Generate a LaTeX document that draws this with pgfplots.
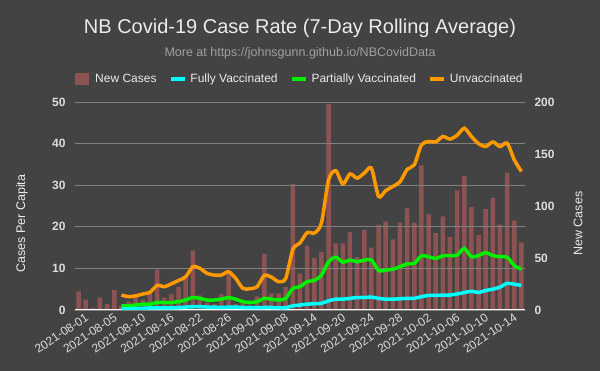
\documentclass[border=0pt]{standalone}
\usepackage{fontspec}
\setmainfont{Liberation Sans}
\usepackage{pgfplots}
\usepackage{pgfplotstable}
\pgfplotsset{compat=1.18}

\definecolor{bg}{RGB}{67,67,67}
\definecolor{barcol}{RGB}{141,82,82}
\definecolor{gridcol}{RGB}{128,128,128}
\definecolor{fullcol}{RGB}{0,255,255}
\definecolor{partcol}{RGB}{0,240,0}
\definecolor{unvcol}{RGB}{255,153,0}
\definecolor{txt}{RGB}{235,235,235}
\definecolor{ticktxt}{RGB}{220,220,220}
\definecolor{subtxt}{RGB}{160,160,160}

% daily new cases (one row per reporting day)
\pgfplotstableread{
x cases
0 18
1 10
2 2
3 12
4 6
5 19
6 4
7 8
8 13
9 10
10 16
11 39
12 12
13 15
14 22
15 31
16 57
17 14
18 7
19 6
20 15
21 36
22 6
23 8
24 5
25 13
26 54
27 16
28 16
29 22
30 121
31 35
32 62
33 50
34 56
35 198
36 64
37 64
38 75
39 51
40 77
41 60
42 82
43 85
44 68
45 84
46 98
47 84
48 139
49 92
50 74
51 90
52 70
53 115
54 129
55 99
56 72
57 97
58 108
59 82
60 132
61 86
62 65
}\casestable

% 7-day rolling case rate per capita by vaccination status
\pgfplotstableread{
x full part unvax
6 0.3 1.0 3.6
7 0.3 1.0 3.2
8 0.4 1.2 3.4
9 0.4 1.4 3.85
10 0.5 1.4 4.25
11 0.5 1.8 5.9
12 0.5 1.8 5.6
13 0.5 1.8 6.3
14 0.6 2.0 7.1
15 0.7 2.4 8.0
16 0.8 3.0 10.4
17 0.8 2.8 10.0
18 0.7 2.4 8.8
19 0.7 2.4 8.4
20 0.6 2.6 8.4
21 0.7 3.0 9.2
22 0.7 2.6 7.6
23 0.6 2.0 5.2
24 0.55 1.8 5.1
25 0.55 2.0 5.6
26 0.6 2.8 8.3
27 0.6 2.6 7.9
28 0.55 2.4 6.8
29 0.55 2.8 7.6
30 1.0 5.2 14.6
31 1.2 5.6 16.1
32 1.4 6.8 18.6
33 1.5 7.1 18.5
34 1.6 8.4 20.9
35 2.2 11.6 31.3
36 2.6 12.7 33.5
37 2.6 11.5 30.3
38 2.8 12.0 32.7
39 3.0 11.6 31.7
40 3.0 12.0 32.9
41 3.1 12.0 34.1
42 2.8 9.5 27.3
43 2.6 9.6 28.7
44 2.6 9.8 29.7
45 2.7 10.4 30.8
46 2.8 11.1 33.8
47 2.8 11.2 34.9
48 3.2 13.0 39.7
49 3.5 12.8 40.5
50 3.5 12.4 40.4
51 3.6 13.0 41.7
52 3.6 13.1 41.1
53 3.85 13.2 42.0
54 4.2 14.8 43.7
55 4.5 12.8 41.7
56 4.2 13.1 40.0
57 4.7 13.8 39.3
58 5.0 13.1 40.4
59 5.5 12.8 39.3
60 6.4 12.7 40.1
61 6.2 10.7 36.1
62 5.9 9.8 33.3
}\ratetable

\pgfplotsset{
  common/.style={
    scale only axis, width=450pt, height=208pt,
    xmin=-0.5, xmax=62.5, ymin=0,
    /pgf/number format/assume math mode=true,
    major tick length=0pt,
    yticklabel style={font=\fontsize{12}{14}\selectfont\bfseries, text=ticktxt},
    label style={font=\fontsize{12.5}{14}\selectfont, text=txt},
  },
}

\begin{document}
\begin{tikzpicture}[x=1pt,y=1pt]
% the plot area spans (0,0)--(450,208); the page spans (-75,-61)--(525,310)
\fill[bg] (-75,-61) rectangle (525,310);

\node[txt, font=\fontsize{20}{24}\selectfont] at (225,282)
  {NB Covid-19 Case Rate (7-Day Rolling Average)};
\node[subtxt, font=\fontsize{12.5}{14}\selectfont] at (225,257)
  {More at https://johnsgunn.github.io/NBCovidData};

% right axis: daily new cases as bars
\begin{axis}[common,
  ymax=200, ytick={0,50,...,200},
  axis y line*=right, axis x line=none,
  y axis line style={draw=none},
  yticklabel style={anchor=west, xshift=6pt},
  ylabel={New Cases},
  ylabel style={at={(axis description cs:1.118,0.415)}, anchor=center},
]
\addplot[ybar, bar width=4.5pt, fill=barcol, draw=none] table[x=x, y=cases] {\casestable};
\end{axis}

% left axis: rolling rates by vaccination status
\begin{axis}[common,
  ymax=50, ytick={0,10,...,50},
  axis y line*=left, axis x line*=bottom,
  y axis line style={draw=none},
  x axis line style={draw=white, line width=1pt},
  ymajorgrids, grid style={gridcol, line width=0.8pt},
  yticklabel style={anchor=east, xshift=-6pt},
  xtick={0,4,...,60},
  xticklabels={2021-08-01,2021-08-05,2021-08-10,2021-08-16,2021-08-22,2021-08-26,2021-09-01,2021-09-08,2021-09-14,2021-09-20,2021-09-24,2021-09-28,2021-10-02,2021-10-06,2021-10-10,2021-10-14},
  xticklabel style={rotate=34, anchor=north east, font=\fontsize{12}{14}\selectfont, text=ticktxt, xshift=7pt, yshift=-2pt},
  ylabel={Cases Per Capita},
  ylabel style={at={(axis description cs:-0.118,0.415)}, anchor=center},
  legend columns=4,
  legend style={at={(axis description cs:0.5,1.112)}, anchor=center,
    draw=none, fill=none, text=txt, font=\fontsize{12}{14}\selectfont,
    /tikz/every odd column/.append style={column sep=4.5pt},
    /tikz/every even column/.append style={column sep=12pt}},
  legend cell align=left,
]
\addlegendimage{legend image code/.code={\fill[barcol] (0pt,-5.5pt) rectangle (13pt,5.5pt);}}
\addlegendentry{New Cases}
\addlegendimage{legend image code/.code={\fill[fullcol] (0pt,-1.5pt) rectangle (13pt,1.5pt);}}
\addlegendentry{Fully Vaccinated}
\addlegendimage{legend image code/.code={\fill[partcol] (0pt,-1.5pt) rectangle (13pt,1.5pt);}}
\addlegendentry{Partially Vaccinated}
\addlegendimage{legend image code/.code={\fill[unvcol] (0pt,-1.5pt) rectangle (13pt,1.5pt);}}
\addlegendentry{Unvaccinated}

\addplot[unvcol, line width=3.5pt, smooth, tension=0.45, forget plot] table[x=x, y=unvax] {\ratetable};
\addplot[partcol, line width=3.5pt, smooth, tension=0.45, forget plot] table[x=x, y=part] {\ratetable};
\addplot[fullcol, line width=3.5pt, smooth, tension=0.45, forget plot] table[x=x, y=full] {\ratetable};
\end{axis}

\pgfresetboundingbox
\useasboundingbox (-75,-61) rectangle (525,310);
\end{tikzpicture}
\end{document}
